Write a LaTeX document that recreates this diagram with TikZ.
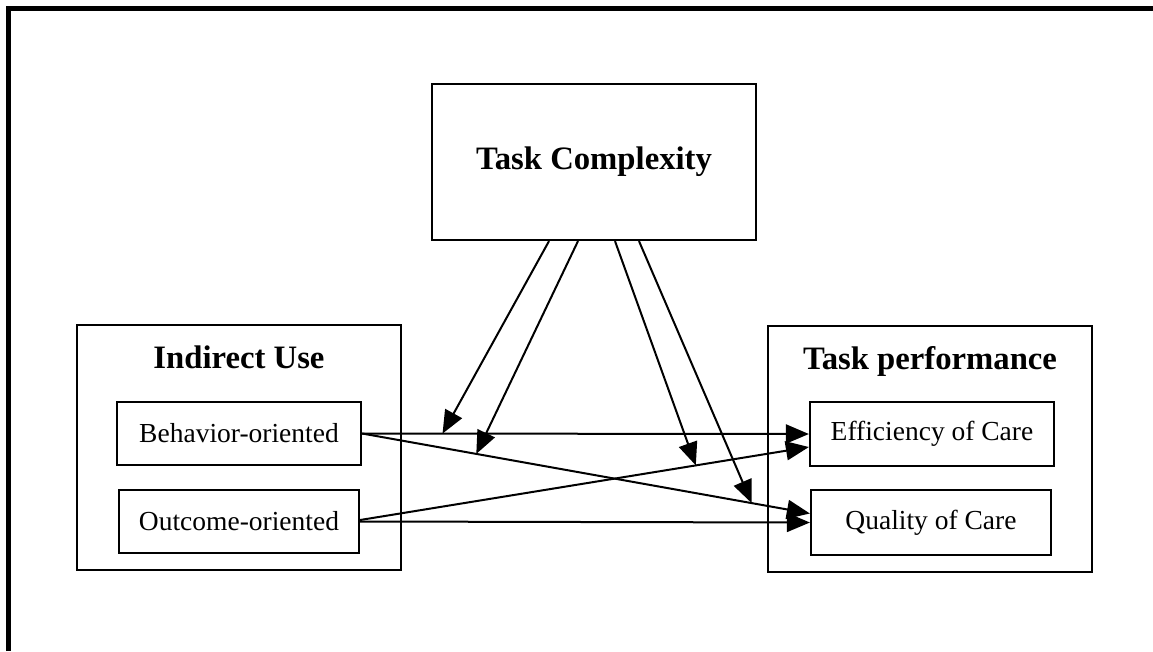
\documentclass[tikz,border=0pt]{standalone}
\usepackage{fontspec}
\setmainfont{Liberation Serif}
\usetikzlibrary{arrows.meta,positioning}

\tikzset{
  box/.style={draw, line width=2.2pt, inner sep=0pt},
  title/.style={font=\fontsize{32.7}{38}\selectfont\bfseries},
  item/.style={draw, line width=2.2pt, font=\fontsize{27.5}{32}\selectfont, minimum height=63pt},
  link/.style={->, line width=2pt},
  >={Triangle[length=23pt,width=19pt]}
}

\begin{document}
\begin{tikzpicture}[x=1pt, y=-1pt]
	\useasboundingbox (0,0) rectangle (1153,651);
	\draw[line width=4.5pt] (8.5,651) -- (8.5,8.5) -- (1153,8.5);
	% groups
	\node[box, title, minimum width=324pt, minimum height=156pt] (tc) at (594,162) {Task Complexity};
	\node[box, minimum width=324pt, minimum height=245pt] (iu) at (239,447.5) {};
	\node[box, minimum width=324pt, minimum height=246pt] (tp) at (930,449) {};
	\node[title, anchor=base] (iut) at ([yshift=-45pt]iu.north) {Indirect Use};
	\node[title, anchor=base] (tpt) at ([yshift=-45pt]tp.north) {Task performance};
	% items
	\node[item, minimum width=244pt] (beh) at (239,433.5) {Behavior-oriented};
	\node[item, minimum width=240pt] (out) at (239,521.5) {Outcome-oriented};
	\node[item, minimum width=244pt, minimum height=64pt] (eff) at (932,434) {Efficiency of Care};
	\node[item, minimum width=240pt, minimum height=65pt] (qual) at (931,522.5) {Quality of Care};
	% links
	\draw[link] (beh.east) -- coordinate[pos=0.18] (m1) (eff.west);
	\draw[link] (beh.east) -- coordinate[pos=0.255] (m2) coordinate[pos=0.87] (m4) ([yshift=9pt]qual.west);
	\draw[link] ([yshift=1.5pt]out.east) -- coordinate[pos=0.748] (m3) ([yshift=-13pt]eff.west);
	\draw[link] (out.east) -- (qual.west);
	\draw[link] ([xshift=-45pt]tc.south) -- (m1);
	\draw[link] ([xshift=-16pt]tc.south) -- (m2);
	\draw[link] ([xshift=21pt]tc.south) -- (m3);
	\draw[link] ([xshift=45pt]tc.south) -- (m4);
\end{tikzpicture}
\end{document}
